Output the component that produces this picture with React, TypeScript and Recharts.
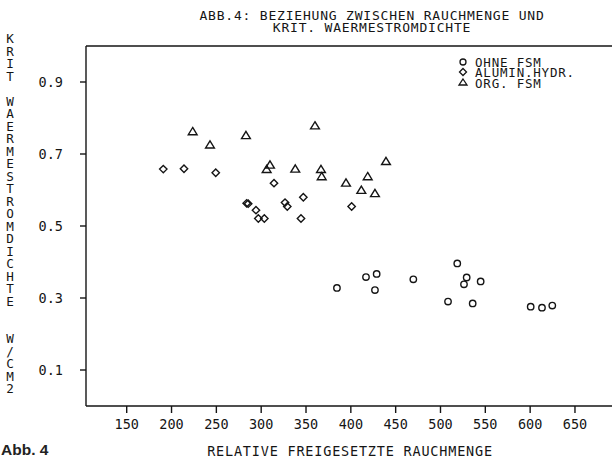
import React from 'react';
import { ScatterChart, Scatter, XAxis, YAxis, ReferenceLine } from 'recharts';

const titleLines = ['ABB.4: BEZIEHUNG ZWISCHEN RAUCHMENGE UND', 'KRIT. WAERMESTROMDICHTE'];
const xLabel = 'RELATIVE FREIGESETZTE RAUCHMENGE';
const yLabel = 'KRIT WAERMESTROMDICHTE  W/CM2';
const figLabel = 'Abb. 4';
const xTicks = [150, 200, 250, 300, 350, 400, 450, 500, 550, 600, 650];
const yTicks = [0.1, 0.3, 0.5, 0.7, 0.9];
const seriesNames = ['OHNE FSM', 'ALUMIN.HYDR.', 'ORG. FSM'];

const ohneX = [384.5, 416.9, 428.8, 426.9, 469.7, 518.7, 529.2, 526.2, 544.8, 508.4, 535.9, 600.6, 613.2, 624.7];
const ohneY = [0.328, 0.358, 0.367, 0.322, 0.352, 0.396, 0.357, 0.338, 0.346, 0.29, 0.285, 0.276, 0.273, 0.279];

const aluX = [190.8, 213.9, 249.3, 283.8, 285.5, 294.2, 314.3, 326.6, 329.1, 347, 296.8, 303.5, 344.4, 400.9];
const aluY = [0.658, 0.659, 0.648, 0.563, 0.562, 0.544, 0.619, 0.565, 0.554, 0.58, 0.521, 0.521, 0.521, 0.554];

const orgX = [223.6, 242.9, 283, 360, 309.8, 306.1, 338, 366.7, 367.5, 439.2, 418.8, 394.6, 411.7, 426.9];
const orgY = [0.762, 0.725, 0.751, 0.778, 0.669, 0.657, 0.658, 0.657, 0.637, 0.679, 0.637, 0.619, 0.599, 0.59];

const toRows = (xs: number[], ys: number[]) => xs.map((x, i) => ({ x, y: ys[i] }));
const ohneData = toRows(ohneX, ohneY);
const aluData = toRows(aluX, aluY);
const orgData = toRows(orgX, orgY);

const INK = '#151515';
const MONO = '"DejaVu Sans Mono", "Liberation Mono", monospace';
const SW = 1.4;

const CircleShape = (p: any) => (
  <circle cx={p.cx} cy={p.cy} r={3.2} fill="none" stroke={INK} strokeWidth={SW} />
);
const DiamondShape = (p: any) => {
  const { cx, cy } = p;
  const d = 3.7;
  return <path d={`M${cx},${cy - d}L${cx + d},${cy}L${cx},${cy + d}L${cx - d},${cy}Z`} fill="none" stroke={INK} strokeWidth={SW} />;
};
const TriangleShape = (p: any) => {
  const { cx, cy } = p;
  return <path d={`M${cx},${cy - 4.2}L${cx + 4.4},${cy + 3}L${cx - 4.4},${cy + 3}Z`} fill="none" stroke={INK} strokeWidth={SW} />;
};

export default function App() {
  return (
    <div style={{ position: 'relative', width: 612, height: 459, background: '#fff' }}>
      <style>{`body{margin:0;background:#fff}`}</style>
      <ScatterChart width={612} height={459} margin={{ top: 46, right: 0, left: 26, bottom: 23 }}>
        <XAxis
          type="number"
          dataKey="x"
          domain={[104.6, 691.3]}
          ticks={xTicks}
          allowDataOverflow
          height={30}
          tickSize={7}
          tickMargin={6}
          axisLine={{ stroke: INK, strokeWidth: SW }}
          tickLine={{ stroke: INK, strokeWidth: SW }}
          tick={{ fill: INK, fontSize: 13.5, fontFamily: MONO }}
        />
        <YAxis
          type="number"
          dataKey="y"
          domain={[0, 1]}
          ticks={yTicks}
          allowDataOverflow
          width={60}
          tickSize={6}
          tickMargin={17}
          tickFormatter={(v: number) => v.toFixed(1)}
          axisLine={{ stroke: INK, strokeWidth: SW }}
          tickLine={{ stroke: INK, strokeWidth: SW }}
          tick={{ fill: INK, fontSize: 13.5, fontFamily: MONO }}
        />
        <ReferenceLine y={1} stroke={INK} strokeWidth={SW} />
        <Scatter name={seriesNames[0]} data={ohneData} shape={CircleShape} isAnimationActive={false} />
        <Scatter name={seriesNames[1]} data={aluData} shape={DiamondShape} isAnimationActive={false} />
        <Scatter name={seriesNames[2]} data={orgData} shape={TriangleShape} isAnimationActive={false} />
      </ScatterChart>
      <svg width={612} height={459} style={{ position: 'absolute', left: 0, top: 0, pointerEvents: 'none' }}>
        <g fontFamily={MONO} fontSize={13} fill={INK} letterSpacing={0.8}>
          <text textAnchor="middle">
            <tspan x={372} y={20}>{titleLines[0]}</tspan>
            <tspan x={372} y={32}>{titleLines[1]}</tspan>
          </text>
          <text x={350} y={456} textAnchor="middle" fontSize={13.5}>{xLabel}</text>
        </g>
        <text
          x={10}
          y={31}
          fontFamily={MONO}
          fontSize={12.64}
          fill={INK}
          letterSpacing={-2.5}
          style={{ writingMode: 'vertical-rl', textOrientation: 'upright', whiteSpace: 'pre' }}
        >
          {yLabel}
        </text>
        <g stroke={INK} strokeWidth={1.3} fill="none">
          <circle cx={463} cy={62} r={3} />
          <path d="M463,68.5L466.5,72L463,75.5L459.5,72Z" />
          <path d="M463,79L467,85L459,85Z" />
        </g>
        <text fontFamily={MONO} fontSize={12.5} fill={INK} letterSpacing={0.8}>
          <tspan x={475} y={66.5}>{seriesNames[0]}</tspan>
          <tspan x={475} y={77}>{seriesNames[1]}</tspan>
          <tspan x={475} y={87.5}>{seriesNames[2]}</tspan>
        </text>
        <text x={1} y={455} fontFamily='"Liberation Sans", Arial, sans-serif' fontWeight="bold" fontSize={15.5} fill="#222">{figLabel}</text>
      </svg>
    </div>
  );
}
